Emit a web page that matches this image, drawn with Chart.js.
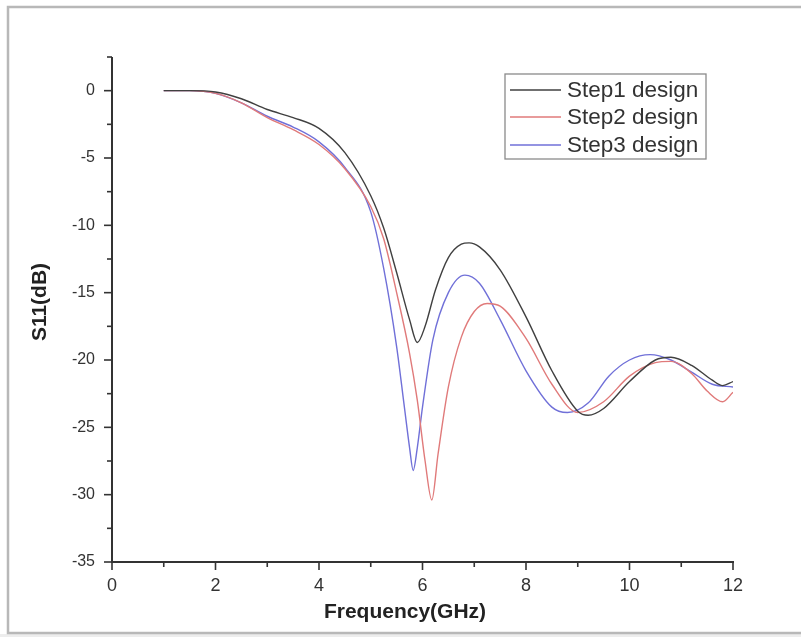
<!DOCTYPE html>
<html>
<head>
<meta charset="utf-8">
<script src="https://cdn.jsdelivr.net/npm/chart.js@4/dist/chart.umd.min.js"></script>
<style>
  html, body { margin: 0; padding: 0; background: #fff; }
  #wrap { width: 801px; height: 637px; position: relative; }
</style>
</head>
<body>
<div id="wrap"><canvas id="c" width="801" height="637"></canvas></div>
<script>
// ---- data ----
const seriesNames = ["Step1 design", "Step2 design", "Step3 design"];

const freqStep1 = [1, 1.5, 2, 2.5, 3, 3.5, 4, 4.5, 5, 5.25, 5.5, 5.75, 5.9, 6.05, 6.25, 6.5, 6.75, 6.9, 7.1, 7.5, 8, 8.5, 9, 9.2, 9.5, 10, 10.5, 10.8, 11.2, 11.6, 11.8, 12];
const s11Step1  = [0, 0, -0.1, -0.6, -1.4, -2.0, -2.8, -4.6, -7.8, -10.2, -13.5, -17.0, -18.7, -17.5, -14.8, -12.4, -11.4, -11.3, -11.6, -13.3, -16.8, -20.8, -23.8, -24.1, -23.6, -21.6, -20.0, -19.8, -20.4, -21.5, -21.9, -21.6];

const freqStep2 = [1, 1.5, 2, 2.5, 3, 3.5, 4, 4.5, 5, 5.25, 5.5, 5.75, 5.9, 6.05, 6.18, 6.3, 6.5, 6.75, 7, 7.25, 7.5, 8, 8.5, 9, 9.5, 10, 10.5, 10.8, 11.2, 11.5, 11.8, 12];
const s11Step2  = [0, 0, -0.2, -0.9, -2.0, -2.9, -4.0, -5.8, -8.6, -11.0, -15.0, -19.5, -23.0, -27.5, -30.4, -27.0, -22.0, -18.3, -16.4, -15.8, -16.0, -18.4, -21.8, -23.9, -23.1, -21.2, -20.2, -20.1, -21.0, -22.3, -23.1, -22.4];

const freqStep3 = [1, 1.5, 2, 2.5, 3, 3.5, 4, 4.5, 5, 5.25, 5.5, 5.65, 5.75, 5.82, 5.9, 6.0, 6.2, 6.5, 6.82, 7.1, 7.5, 8, 8.5, 8.8, 9.2, 9.6, 10, 10.4, 10.8, 11.2, 11.6, 12];
const s11Step3  = [0, 0, -0.2, -0.9, -1.9, -2.7, -3.8, -5.7, -9.0, -13.2, -19.0, -23.5, -26.5, -28.2, -26.5, -23.5, -18.5, -15.0, -13.7, -14.3, -17.0, -20.8, -23.5, -23.9, -23.2, -21.2, -20.0, -19.6, -20.0, -20.9, -21.8, -22.0];

const xTickLabels = [0, 2, 4, 6, 8, 10, 12];
const yTickLabels = [0, -5, -10, -15, -20, -25, -30, -35];

const xTitle = "Frequency(GHz)";
const yTitle = "S11(dB)";

// ---- build chart ----
const colors = ["#404040", "#e07a7a", "#7070d8"];
const pts = (xs, ys) => xs.map((x, i) => ({ x: x, y: ys[i] }));

const FONT = "'Liberation Sans', Arial, sans-serif";

const framePlugin = {
  id: 'frame',
  beforeDraw(chart) {
    const ctx = chart.ctx;
    ctx.save();
    ctx.fillStyle = '#ffffff';
    ctx.fillRect(0, 0, chart.width, chart.height);
    ctx.fillStyle = '#ededed';
    ctx.fillRect(0, 634, chart.width, 3);
    ctx.strokeStyle = '#b8b8b8';
    ctx.lineWidth = 2.5;
    ctx.strokeRect(8, 7, 820, 626);
    ctx.restore();
  }
};

const axesPlugin = {
  id: 'customAxes',
  afterDraw(chart) {
    const ctx = chart.ctx;
    const xs = chart.scales.x, ys = chart.scales.y;
    const L = chart.chartArea.left, B = chart.chartArea.bottom, T = chart.chartArea.top, R = chart.chartArea.right;
    ctx.save();
    ctx.strokeStyle = '#333';
    ctx.lineWidth = 2;
    ctx.beginPath();
    ctx.moveTo(L, T); ctx.lineTo(L, B); ctx.lineTo(R + 1, B);
    ctx.stroke();
    ctx.lineWidth = 1.6;
    for (let v = 0; v <= 12; v += 1) {
      const px = xs.getPixelForValue(v);
      const len = (v % 2 === 0) ? 8 : 5;
      ctx.beginPath(); ctx.moveTo(px, B); ctx.lineTo(px, B + len); ctx.stroke();
    }
    for (let v = -35; v <= 2.5; v += 2.5) {
      const py = ys.getPixelForValue(v);
      const len = (v % 5 === 0) ? 8 : 5;
      ctx.beginPath(); ctx.moveTo(L, py); ctx.lineTo(L - len, py); ctx.stroke();
    }
    ctx.fillStyle = '#222';
    ctx.font = "bold 21px " + FONT;
    ctx.textAlign = 'center';
    ctx.textBaseline = 'middle';
    ctx.fillText(xTitle, 405, 612);
    ctx.translate(40, 302);
    ctx.rotate(-Math.PI / 2);
    ctx.fillText(yTitle, 0, 0);
    ctx.restore();

    // legend box
    ctx.save();
    const bx = 505, by = 74, bw = 201, bh = 85;
    ctx.strokeStyle = '#8a8a8a';
    ctx.lineWidth = 1.3;
    ctx.strokeRect(bx, by, bw, bh);
    ctx.font = "22.5px " + FONT;
    ctx.textAlign = 'left';
    ctx.textBaseline = 'middle';
    const rows = [90, 117, 145];
    chart.data.datasets.forEach((ds, i) => {
      ctx.strokeStyle = ds.borderColor;
      ctx.lineWidth = 1.4;
      ctx.beginPath(); ctx.moveTo(510, rows[i]); ctx.lineTo(561, rows[i]); ctx.stroke();
      ctx.fillStyle = '#333';
      ctx.fillText(ds.label, 567, rows[i] + 1);
    });
    ctx.restore();
  }
};

new Chart(document.getElementById('c'), {
  type: 'line',
  data: {
    datasets: [
      { label: seriesNames[0], data: pts(freqStep1, s11Step1), borderColor: colors[0] },
      { label: seriesNames[1], data: pts(freqStep2, s11Step2), borderColor: colors[1] },
      { label: seriesNames[2], data: pts(freqStep3, s11Step3), borderColor: colors[2] }
    ].map(d => Object.assign(d, {
      borderWidth: 1.4, pointRadius: 0, fill: false, cubicInterpolationMode: 'monotone'
    }))
  },
  options: {
    responsive: false,
    animation: false,
    devicePixelRatio: 1,
    layout: { padding: { left: 0, right: 68, top: 57, bottom: 0 } },
    plugins: { legend: { display: false }, tooltip: { enabled: false } },
    scales: {
      x: {
        type: 'linear', min: 0, max: 12,
        afterFit(s) { s.height = 75; },
        border: { display: false },
        grid: { display: true, drawOnChartArea: false, drawTicks: true, tickLength: 8, tickColor: 'rgba(0,0,0,0)' },
        ticks: {
          stepSize: 1, padding: 5, color: '#333', maxRotation: 0, autoSkip: false,
          font: { family: FONT, size: 18 },
          callback: v => xTickLabels.includes(v) ? String(v) : ''
        }
      },
      y: {
        type: 'linear', min: -35, max: 2.5,
        afterFit(s) { s.width = 112; },
        border: { display: false },
        grid: { display: true, drawOnChartArea: false, drawTicks: true, tickLength: 8, tickColor: 'rgba(0,0,0,0)' },
        ticks: {
          stepSize: 2.5, padding: 9, color: '#333', autoSkip: false,
          font: { family: FONT, size: 16 },
          callback: v => yTickLabels.includes(v) ? String(v) : ''
        }
      }
    }
  },
  plugins: [framePlugin, axesPlugin]
});
</script>
</body>
</html>
